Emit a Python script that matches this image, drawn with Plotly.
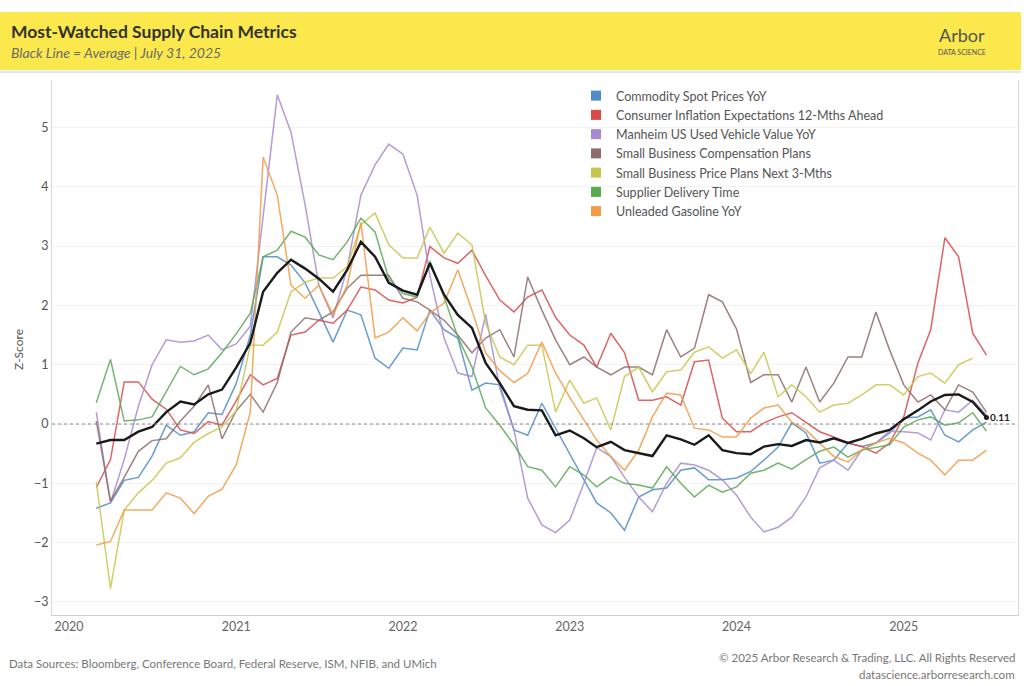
import pandas as pd
import plotly.graph_objects as go

dates = pd.date_range("2020-03-01", periods=65, freq="MS")

series_names = [
    "Commodity Spot Prices YoY",
    "Consumer Inflation Expectations 12-Mths Ahead",
    "Manheim US Used Vehicle Value YoY",
    "Small Business Compensation Plans",
    "Small Business Price Plans Next 3-Mths",
    "Supplier Delivery Time",
    "Unleaded Gasoline YoY",
]
series_colors = ["#4f8cc9", "#d94b4b", "#a68bd2", "#8c6d6b", "#c6c84e", "#5aa955", "#f29c45"]

commodity = [-1.42, -1.33, -0.95, -0.90, -0.54, -0.02, -0.19, -0.13, 0.19, 0.16,
             0.68, 1.50, 2.82, 2.82, 2.68, 2.38, 1.89, 1.38, 1.92, 1.84,
             1.11, 0.94, 1.28, 1.25, 1.92, 1.59, 1.45, 0.57, 0.69, 0.66,
             -0.10, -0.19, 0.35, -0.07, -0.52, -0.94, -1.33, -1.50, -1.79, -1.23,
             -1.11, -1.08, -0.78, -0.74, -0.94, -0.94, -0.91, -0.80, -0.61, -0.39,
             0.02, -0.15, -0.66, -0.61, -0.32, -0.38, -0.32, -0.15, 0.10, 0.12,
             0.24, -0.19, -0.30, -0.10, 0.03]
inflation_exp = [-1.07, -0.60, 0.71, 0.71, 0.42, 0.25, -0.10, -0.16, 0.04, -0.02,
                 0.39, 0.83, 0.66, 0.77, 1.50, 1.55, 1.75, 1.70, 1.92, 2.31,
                 2.26, 2.09, 2.04, 2.14, 2.99, 2.80, 2.71, 2.93, 2.50, 2.09,
                 1.89, 2.14, 2.26, 1.80, 1.50, 1.33, 0.96, 1.53, 1.20, 0.40,
                 0.40, 0.46, 0.32, 1.05, 1.08, 0.10, -0.13, -0.13, 0.02, 0.12,
                 0.19, 0.02, -0.13, -0.22, -0.32, -0.38, -0.49, -0.32, 0.12, 1.03,
                 1.59, 3.14, 2.82, 1.53, 1.16]
manheim = [0.20, -1.33, -0.60, 0.30, 1.00, 1.42, 1.38, 1.40, 1.50, 1.25,
           1.35, 1.65, 3.50, 5.55, 4.92, 3.69, 2.34, 1.79, 2.63, 3.86,
           4.37, 4.72, 4.55, 3.86, 2.50, 1.45, 0.86, 0.80, 1.85, 0.60,
           -0.10, -1.25, -1.70, -1.83, -1.62, -1.00, -0.40, -0.55, -0.90, -1.23,
           -1.48, -1.00, -0.66, -0.69, -0.78, -0.94, -1.20, -1.57, -1.82, -1.74,
           -1.57, -1.23, -0.74, -0.61, -0.78, -0.44, -0.32, -0.12, -0.13, -0.15,
           -0.27, 0.24, 0.20, 0.40, 0.15]
comp_plans = [0.05, -1.30, -0.90, -0.46, -0.28, -0.25, 0.05, 0.30, 0.66, -0.25,
              0.22, 0.50, 0.20, 0.70, 1.55, 1.79, 1.75, 1.89, 2.29, 2.51,
              2.51, 2.51, 2.12, 2.06, 1.92, 1.75, 1.50, 1.20, 1.45, 1.59,
              1.13, 2.48, 1.92, 1.42, 1.00, 1.13, 0.96, 0.83, 0.96, 0.96,
              0.83, 1.59, 1.13, 1.28, 2.18, 2.06, 1.60, 0.70, 0.83, 0.83,
              0.37, 0.96, 0.37, 0.69, 1.13, 1.13, 1.89, 1.25, 0.66, 0.37,
              0.49, 0.24, 0.66, 0.54, 0.20]
price_plans = [-0.98, -2.77, -1.45, -1.16, -0.95, -0.66, -0.57, -0.31, -0.16, -0.05,
               0.22, 1.33, 1.33, 1.55, 2.23, 2.39, 2.46, 2.46, 2.65, 3.36,
               3.56, 3.02, 2.80, 2.80, 3.32, 2.88, 3.22, 3.02, 1.70, 1.13,
               1.00, 1.33, 1.33, 0.20, 0.74, 0.35, 0.44, -0.10, 0.80, 0.96,
               0.54, 0.88, 0.91, 1.21, 1.30, 1.11, 1.25, 0.85, 1.21, 0.46,
               0.66, 0.46, 0.20, 0.32, 0.35, 0.49, 0.66, 0.66, 0.49, 0.80,
               0.86, 0.69, 1.00, 1.11, None]
supplier = [0.36, 1.09, 0.05, 0.07, 0.12, 0.55, 0.97, 0.83, 0.93, 1.20,
            1.52, 1.87, 2.82, 2.93, 3.25, 3.15, 2.85, 2.77, 3.07, 3.47,
            3.24, 2.45, 2.20, 2.14, 2.75, 2.14, 1.47, 0.96, 0.27, -0.02,
            -0.35, -0.72, -0.78, -1.06, -0.72, -0.86, -1.06, -0.89, -1.00, -1.03,
            -1.08, -0.72, -1.00, -1.23, -1.03, -1.15, -1.06, -0.83, -0.78, -0.66,
            -0.76, -0.60, -0.46, -0.39, -0.56, -0.44, -0.40, -0.35, -0.05, 0.07,
            0.12, -0.02, 0.02, 0.19, -0.12]
gasoline = [-2.04, -1.98, -1.45, -1.45, -1.45, -1.16, -1.25, -1.51, -1.22, -1.10,
            -0.69, 0.20, 4.50, 3.86, 2.34, 2.12, 2.34, 1.84, 2.34, 3.40,
            1.45, 1.55, 1.79, 1.57, 1.87, 2.04, 2.60, 1.92, 1.20, 0.90,
            0.70, 0.85, 1.38, 0.86, 0.45, 0.07, -0.27, -0.55, -0.78, -0.44,
            0.12, 0.52, 0.49, -0.07, -0.10, -0.22, -0.22, 0.10, 0.27, 0.32,
            0.03, -0.10, -0.32, -0.55, -0.64, -0.44, -0.32, -0.24, -0.32, -0.49,
            -0.61, -0.86, -0.61, -0.61, -0.44]
average = [-0.33, -0.27, -0.27, -0.13, -0.05, 0.20, 0.38, 0.33, 0.50, 0.58,
           0.95, 1.37, 2.23, 2.55, 2.77, 2.62, 2.45, 2.23, 2.60, 3.07,
           2.82, 2.38, 2.25, 2.18, 2.71, 2.18, 1.84, 1.62, 1.03, 0.69,
           0.30, 0.24, 0.23, -0.19, -0.11, -0.24, -0.39, -0.30, -0.44, -0.49,
           -0.54, -0.19, -0.26, -0.35, -0.19, -0.44, -0.49, -0.51, -0.38, -0.34,
           -0.37, -0.27, -0.31, -0.24, -0.32, -0.25, -0.16, -0.10, 0.08, 0.23,
           0.38, 0.49, 0.50, 0.37, 0.11]

series_values = [commodity, inflation_exp, manheim, comp_plans, price_plans, supplier, gasoline]

y_ticks = [-3, -2, -1, 0, 1, 2, 3, 4, 5]

FONT = "Lato"
W, H = 1024, 686
ML, MR, MT, MB = 52, 6, 80, 71
PW, PH = W - ML - MR, H - MT - MB


def px(x):
    return (x - ML) / PW


def py(y):
    return (H - MB - y) / PH


fig = go.Figure()

for name, vals, col in zip(series_names, series_values, series_colors):
    fig.add_trace(go.Scatter(x=dates, y=vals, mode="lines", name=name,
                             line=dict(color=col, width=1.5), opacity=0.85,
                             showlegend=False, hoverinfo="skip"))
    fig.add_trace(go.Scatter(x=[None], y=[None], mode="markers", name=name,
                             marker=dict(symbol="square", size=10, color=col),
                             showlegend=True))

fig.add_trace(go.Scatter(x=dates, y=average, mode="lines", name="Average",
                         line=dict(color="#1a1a1a", width=2.4), showlegend=False))
fig.add_trace(go.Scatter(x=[dates[-1]], y=[average[-1]], mode="markers",
                         marker=dict(color="#1a1a1a", size=5), showlegend=False))

shapes = [
    dict(type="rect", xref="paper", yref="paper", x0=px(0), x1=px(1021), y0=py(70), y1=py(12),
         fillcolor="#fae84c", line=dict(width=0), layer="below"),
    dict(type="line", xref="paper", yref="paper", x0=px(0), x1=px(1021), y0=py(72), y1=py(72),
         line=dict(color="#e6e6e6", width=2)),
    dict(type="line", xref="paper", yref="y", x0=0, x1=1, y0=0, y1=0,
         line=dict(color="#888888", width=1, dash="dot")),
]

annotations = [
    dict(text="<b>Most-Watched Supply Chain Metrics</b>", x=px(9), y=py(31), xref="paper", yref="paper",
         xanchor="left", yanchor="middle", showarrow=False, font=dict(family=FONT, size=17.5, color="#333333")),
    dict(text="<i>Black Line = Average | July 31, 2025</i>", x=px(9), y=py(52), xref="paper", yref="paper",
         xanchor="left", yanchor="middle", showarrow=False, font=dict(family=FONT, size=14, color="#6a6a6a")),
    dict(text="Arbor", x=px(962), y=py(35), xref="paper", yref="paper", xanchor="center", yanchor="middle",
         showarrow=False, font=dict(family=FONT, size=18, color="#555555")),
    dict(text="DATA SCIENCE", x=px(962), y=py(52), xref="paper", yref="paper", xanchor="center",
         yanchor="middle", showarrow=False, font=dict(family=FONT, size=7, color="#555555")),
    dict(text="Z-Score", x=px(18), y=py(350), xref="paper", yref="paper", textangle=-90,
         xanchor="center", yanchor="middle", showarrow=False, font=dict(family=FONT, size=12, color="#555555")),
    dict(text="Data Sources: Bloomberg, Conference Board, Federal Reserve, ISM, NFIB, and UMich",
         x=px(7), y=py(663), xref="paper", yref="paper", xanchor="left", yanchor="middle", showarrow=False,
         font=dict(family=FONT, size=11.5, color="#777777")),
    dict(text="\u00a9 2025 Arbor Research & Trading, LLC. All Rights Reserved",
         x=px(1017), y=py(657), xref="paper", yref="paper", xanchor="right", yanchor="middle", showarrow=False,
         font=dict(family=FONT, size=11.5, color="#777777")),
    dict(text="datascience.arborresearch.com",
         x=px(1017), y=py(674), xref="paper", yref="paper", xanchor="right", yanchor="middle", showarrow=False,
         font=dict(family=FONT, size=11.5, color="#777777")),
    dict(text="<b>%.2f</b>" % average[-1], x=dates[-1], y=average[-1], xref="x", yref="y",
         xanchor="left", yanchor="middle", xshift=2, showarrow=False,
         font=dict(family=FONT, size=10, color="#222222")),
]

fig.update_layout(
    width=W, height=H,
    margin=dict(l=ML, r=MR, t=MT, b=MB),
    paper_bgcolor="white", plot_bgcolor="white",
    font=dict(family=FONT, size=12, color="#555555"),
    shapes=shapes, annotations=annotations,
    hovermode=False,
    legend=dict(x=px(576), y=py(81), xanchor="left", yanchor="top",
                font=dict(family=FONT, size=12.5, color="#555555"),
                bgcolor="rgba(0,0,0,0)", itemwidth=30, tracegroupgap=0),
    xaxis=dict(range=["2019-11-25", "2025-09-08"], dtick="M12", tick0="2020-01-01",
               tickformat="%Y", showgrid=False, zeroline=False, showline=True,
               linecolor="#d0d0d0", linewidth=1, ticks="",
               tickfont=dict(family=FONT, size=12.5, color="#666666")),
    yaxis=dict(range=[-3.22, 5.8], tickvals=y_ticks, showgrid=True, gridcolor="#f2f2f2",
               zeroline=False, showline=True, mirror=True, linecolor="#d8d8d8", linewidth=1,
               ticks="", tickfont=dict(family=FONT, size=12.5, color="#555555")),
)

fig.write_html("out.html", config={"displayModeBar": False},
               post_script="document.body.style.margin='0px';")
